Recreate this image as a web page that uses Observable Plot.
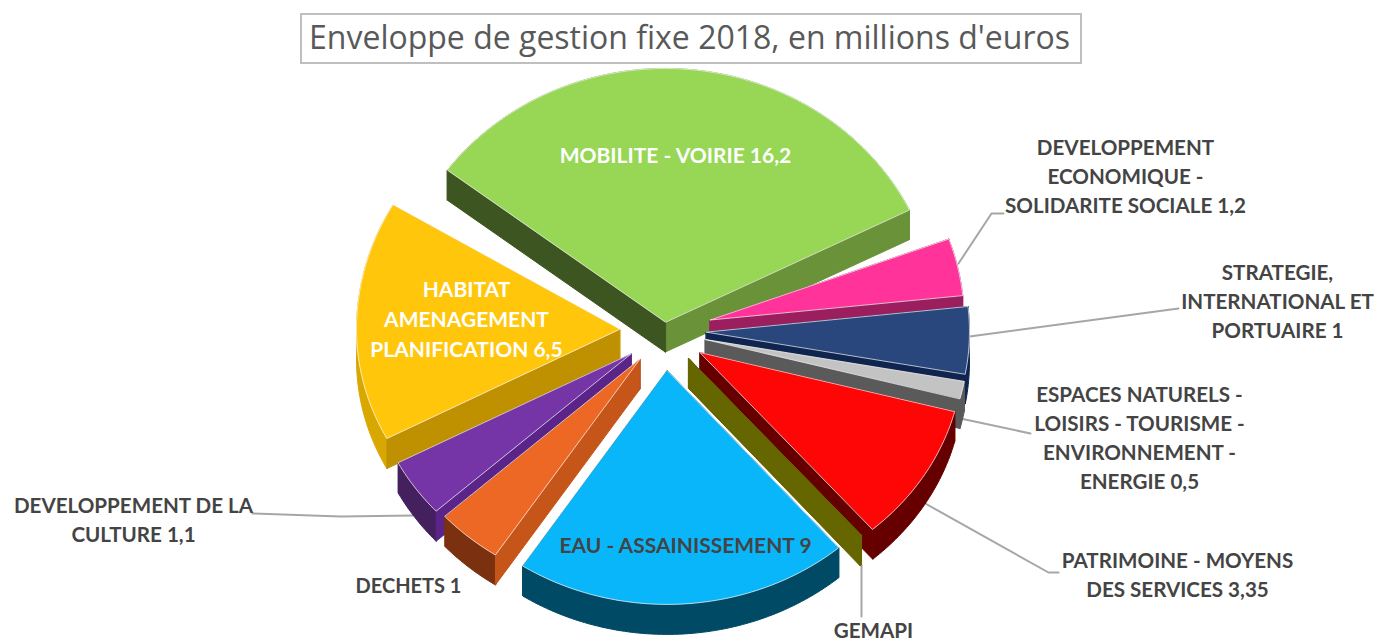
<!DOCTYPE html>
<html lang="fr">
<head>
<meta charset="utf-8">
<script src="https://cdn.jsdelivr.net/npm/d3@7"></script>
<script src="https://cdn.jsdelivr.net/npm/@observablehq/plot@0.6"></script>
<style>
  html, body { margin: 0; padding: 0; background: #fff; }
  #head { position: relative; height: 64px; width: 1384px; }
  #head div { position: absolute; left: 300px; top: 13px; width: 778px; height: 47px; border: 2px solid #bfbfbf;
    font: 32px/43px "Open Sans", sans-serif; color: #595959; text-align: center; white-space: nowrap; text-indent: -3px; }
  svg { display: block; }
</style>
</head>
<body>
<div id="head"><div>Enveloppe de gestion fixe 2018, en millions d'euros</div></div>
<script>
// --- Chart values, clockwise from the top slice
const names = ["MOBILITE - VOIRIE", "DEVELOPPEMENT ECONOMIQUE - SOLIDARITE SOCIALE", "STRATEGIE, INTERNATIONAL ET PORTUAIRE",
  "ESPACES NATURELS - LOISIRS - TOURISME - ENVIRONNEMENT - ENERGIE", "PATRIMOINE - MOYENS DES SERVICES", "GEMAPI",
  "EAU - ASSAINISSEMENT", "DECHETS", "DEVELOPPEMENT DE LA CULTURE", "HABITAT AMENAGEMENT PLANIFICATION"];
const values = [16.2, 1.2, 1, 0.5, 3.35, 0.05, 9, 1, 1.1, 6.5];

// --- Slice colours: top face, first radial wall, last radial wall, outer wall
const topColors   = ["#97d755", "#ff3399", "#29477d", "#c3c3c3", "#ff0606", "#666600", "#09b6f9", "#ed6825", "#7635a6", "#ffc60b"];
const startWalls  = ["#3d5520", "#9b1f5f", "#0f2550", "#5a5a5a", "#660000", "#666600", "#004a66", "#c55518", "#5a2488", "#bf9000"];
const endWalls    = ["#6a9238", "#9b1f5f", "#0f2550", "#5a5a5a", "#660000", "#666600", "#004a66", "#7b3010", "#44205f", "#d9a800"];
const outerWalls  = ["#6a9238", "#9b1f5f", "#0f2550", "#5a5a5a", "#660000", "#666600", "#004a66", "#7b3010", "#44205f", "#d9a800"];

// --- Labels
const labelTexts = ["MOBILITE - VOIRIE 16,2", "DEVELOPPEMENT\nECONOMIQUE -\nSOLIDARITE SOCIALE 1,2", "STRATEGIE,\nINTERNATIONAL ET\nPORTUAIRE 1",
  "ESPACES NATURELS -\nLOISIRS - TOURISME -\nENVIRONNEMENT -\nENERGIE 0,5", "PATRIMOINE - MOYENS\nDES SERVICES 3,35", "GEMAPI",
  "EAU - ASSAINISSEMENT 9", "DECHETS 1", "DEVELOPPEMENT DE LA\nCULTURE 1,1", "HABITAT\nAMENAGEMENT\nPLANIFICATION 6,5"];
const labelColors = ["#fff", "#444", "#444", "#444", "#444", "#444", "#444", "#444", "#444", "#fff"];
const labelSizes = [21, 20.6, 20.6, 20.6, 20.6, 20.6, 21, 20, 20.6, 21];
const labelX = [675, 1125, 1277, 1139, 1177, 873, 685, 408, 133, 466];
const labelY = [153, 174, 299, 436, 573, 628, 543, 583, 518, 317];

// --- Leader lines
const leaderIds = [1, 1, 1, 2, 2, 3, 3, 4, 4, 4, 5, 5, 8, 8, 8];
const leaderX = [958, 991, 1003, 969, 1178, 960, 1030, 923, 1048, 1058, 861, 861, 413, 340, 252];
const leaderY = [263, 213, 213, 336, 308, 418, 433, 502, 572, 572, 565, 616, 515, 516, 513];

// --- 3D pie projection (tilt, perspective and explosion of the drawing)
const center = [664, 330], radiusX = 263, radiusFar = 245, radiusNear = 234, depth = 30;
const explode = [8.5, 47, 42, 42, 42, 37, 40, 38, 41, 45];
const sizeFactor = [1.035, 0.965, 1, 1, 1, 1, 1, 1, 1, 1];
const trim = [6.3, 0, 0, 0, 0, 0, 0, 0, 0, 0];
const paintOrder = [0, 1, 2, 3, 4, 5, 9, 8, 7, 6];
const cumul = [0, ...d3.cumsum(values)];
// Foreshortening: cumulative value -> bearing on the tilted disc (degrees clockwise from the far side)
const bearing = d3.scaleLinear().domain(cumul).range([-59.5, 70, 84, 100.3, 104.6, 139, 139.3, 213.3, 227.8, 242.2, 300.5]);
const rad = (d) => d * Math.PI / 180;

const polygons = [];
function addPoly(id, pts, fill, stroke) {
  for (const [x, y] of pts) polygons.push({id, x, y, fill, stroke});
}
paintOrder.forEach((i) => {
  const a0 = bearing(cumul[i]) + trim[i], a1 = bearing(cumul[i + 1]) - trim[i], mid = (a0 + a1) / 2;
  const ax = center[0] + explode[i] * Math.sin(rad(mid)), ay = center[1] - explode[i] * Math.cos(rad(mid));
  const n = Math.max(2, Math.ceil(a1 - a0));
  const arc = d3.range(n + 1).map((k) => {
    const t = rad(a0 + (a1 - a0) * k / n), c = Math.cos(t);
    return [ax + radiusX * sizeFactor[i] * Math.sin(t), ay - (c > 0 ? radiusFar : radiusNear) * sizeFactor[i] * c];
  });
  const down = ([x, y]) => [x, y + depth];
  const apex = [ax, ay], first = arc[0], last = arc[n];
  addPoly(`${i}-o`, [...arc, ...arc.slice().reverse().map(down)], outerWalls[i], outerWalls[i]);
  addPoly(`${i}-e`, [apex, last, down(last), down(apex)], endWalls[i], endWalls[i]);
  addPoly(`${i}-s`, [apex, first, down(first), down(apex)], startWalls[i], startWalls[i]);
  addPoly(`${i}-t`, [apex, ...arc], topColors[i], names[i] === "GEMAPI" ? topColors[i] : "#ffffffb0");
});

const labels = labelTexts.map((text, i) => ({text, x: labelX[i], y: labelY[i], color: labelColors[i], size: labelSizes[i]}));
const leaders = leaderIds.map((id, i) => ({id, x: leaderX[i], y: leaderY[i]}));

const chart = Plot.plot({
  width: 1384, height: 578, margin: 0,
  x: {domain: [0, 1384], range: [0, 1384], axis: null},
  y: {domain: [64, 642], range: [0, 578], axis: null},
  color: {type: "identity"},
  style: {background: "#fff"},
  marks: [
    Plot.line(leaders, {x: "x", y: "y", z: "id", stroke: "#a6a6a6", strokeWidth: 2}),
    Plot.line(polygons, {x: "x", y: "y", z: "id", fill: "fill", stroke: "stroke", strokeWidth: 1, curve: "linear-closed"}),
    Plot.text(labels, {x: "x", y: "y", text: "text", fill: "color", fontFamily: "Lato, sans-serif", fontWeight: 700,
      fontSize: "size", lineHeight: 1.41, textAnchor: "middle", lineAnchor: "middle"})
  ]
});
document.body.appendChild(chart);
</script>
</body>
</html>
